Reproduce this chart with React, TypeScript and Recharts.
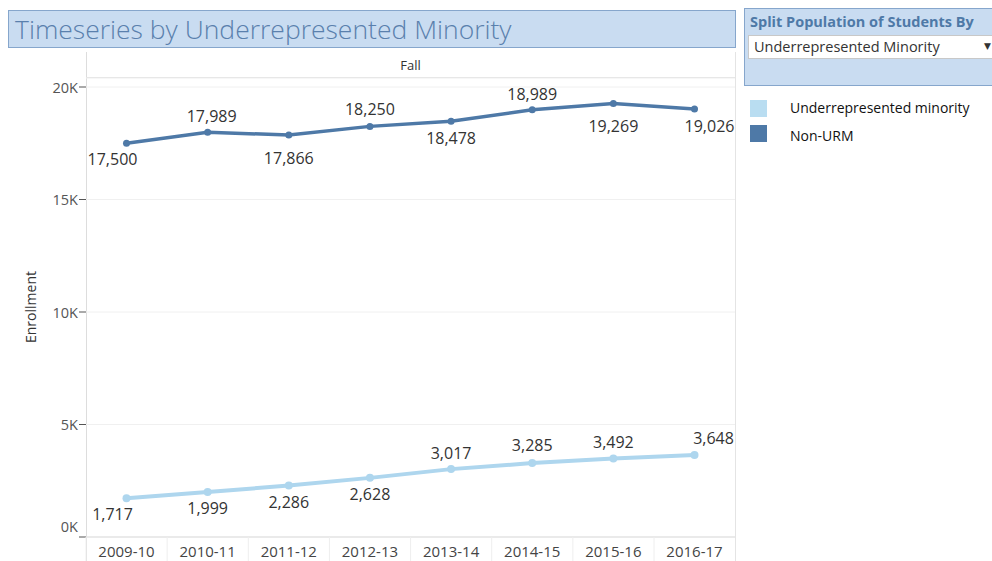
import React from "react";
import {
  LineChart, Line, XAxis, YAxis, CartesianGrid, LabelList,
} from "recharts";

const YEARS = ["2009-10", "2010-11", "2011-12", "2012-13", "2013-14", "2014-15", "2015-16", "2016-17"];
const URM = [1717, 1999, 2286, 2628, 3017, 3285, 3492, 3648];
const NON_URM = [17500, 17989, 17866, 18250, 18478, 18989, 19269, 19026];
const Y_TICKS = [0, 5000, 10000, 15000, 20000];

const URM_COLOR = "#aed6ee";
const NON_URM_COLOR = "#4e79a7";
const FONT = "'Open Sans', 'DejaVu Sans', sans-serif";

// label placement offsets (dx, dy) per point, mimicking Tableau's placement
const NON_URM_OFFSETS: [number, number][] = [
  [-14, 16], [4, -16], [0, 23], [0, -17], [0, 17], [0, -16], [0, 23], [15, 17],
];
const URM_OFFSETS: [number, number][] = [
  [-14, 16], [0, 16], [0, 16], [0, 16], [0, -16], [0, -18], [0, -16], [19, -17],
];

const rows = YEARS.map((y, i) => ({ year: y, urm: URM[i], nonUrm: NON_URM[i] }));

function makeLabel(offsets: [number, number][]) {
  return (props: any) => {
    const { x, y, value, index } = props;
    const [dx, dy] = offsets[index] ?? [0, -16];
    return (
      <text
        x={x + dx}
        y={y + dy}
        textAnchor="middle"
        dominantBaseline="central"
        style={{ fontFamily: FONT, fontSize: 16, fill: "#333" }}
      >
        {Number(value).toLocaleString("en-US")}
      </text>
    );
  };
}

function XTick(props: any) {
  const { x, y, payload } = props;
  return (
    <g>
      <line x1={x - 40.5} x2={x - 40.5} y1={y - 8} y2={y + 24} stroke="#eeeeee" />
      <text
        x={x}
        y={y + 6}
        textAnchor="middle"
        dominantBaseline="central"
        style={{ fontFamily: FONT, fontSize: 15, fill: "#444" }}
      >
        {payload.value}
      </text>
    </g>
  );
}

function YTick(props: any) {
  const { x, y, payload } = props;
  return (
    <text
      x={x}
      y={payload.value === 0 ? y - 11 : y}
      textAnchor="end"
      dominantBaseline="central"
      style={{ fontFamily: FONT, fontSize: 14.5, fill: "#555" }}
    >
      {payload.value / 1000}K
    </text>
  );
}

export default function App() {
  return (
    <div
      style={{
        position: "absolute", left: 0, top: 0, width: 992, height: 561,
        overflow: "hidden", background: "#fff", fontFamily: FONT,
      }}
    >
      {/* title */}
      <div
        style={{
          position: "absolute", left: 8, top: 10, width: 720, height: 36,
          background: "#c9dcf1", border: "1px solid #86a6cc",
          color: "#5a80ad", fontSize: 26.5, fontWeight: 300, lineHeight: "36px", paddingLeft: 6,
          boxSizing: "content-box", whiteSpace: "nowrap",
        }}
      >
        Timeseries by Underrepresented Minority
      </div>

      {/* Fall header */}
      <div
        style={{
          position: "absolute", left: 86, top: 52, width: 649, height: 25,
          borderBottom: "1px solid #dddddd", textAlign: "center",
          fontSize: 13, lineHeight: "27px", color: "#333",
        }}
      >
        Fall
      </div>
      <div style={{ position: "absolute", left: 86, top: 52, width: 1, height: 509, background: "#dddddd" }} />
      <div style={{ position: "absolute", left: 735, top: 52, width: 1, height: 509, background: "#e4e4e4" }} />

      {/* y axis title */}
      <div
        style={{
          position: "absolute", left: 30, top: 307, transform: "translate(-50%, -50%) rotate(-90deg)",
          fontSize: 14, color: "#333", whiteSpace: "nowrap",
        }}
      >
        Enrollment
      </div>

      <div style={{ position: "absolute", left: 0, top: 0 }}>
        <LineChart
          width={740}
          height={561}
          data={rows}
          margin={{ top: 78, right: 5, left: 0, bottom: 0 }}
        >
          <CartesianGrid horizontal vertical={false} stroke="#f0f0f0" />
          <XAxis
            dataKey="year"
            axisLine={{ stroke: "#dddddd" }}
            tickLine={false}
            tick={<XTick />}
            padding={{ left: 40.5, right: 40.5 }}
            height={24}
            interval={0}
          />
          <YAxis
            width={86}
            domain={[0, 20400]}
            ticks={Y_TICKS}
            tick={<YTick />}
            axisLine={false}
            tickLine={{ stroke: "#555" }}
            tickSize={7}
            tickMargin={1}
            allowDataOverflow
          />
          <Line
            dataKey="urm"
            stroke={URM_COLOR}
            strokeWidth={4}
            dot={{ r: 4, fill: URM_COLOR, stroke: "none" }}
            isAnimationActive={false}
          >
            <LabelList dataKey="urm" content={makeLabel(URM_OFFSETS)} />
          </Line>
          <Line
            dataKey="nonUrm"
            stroke={NON_URM_COLOR}
            strokeWidth={3.5}
            dot={{ r: 3.5, fill: NON_URM_COLOR, stroke: "none" }}
            isAnimationActive={false}
          >
            <LabelList dataKey="nonUrm" content={makeLabel(NON_URM_OFFSETS)} />
          </Line>
        </LineChart>
      </div>

      {/* filter box */}
      <div
        style={{
          position: "absolute", left: 744, top: 8, width: 260, height: 76,
          background: "#c9dcf1", border: "1px solid #86a6cc",
        }}
      >
        <div style={{ position: "absolute", left: 5, top: 3, fontSize: 14.5, fontWeight: 700, color: "#4e79a7", whiteSpace: "nowrap" }}>
          Split Population of Students By
        </div>
        <div
          style={{
            position: "absolute", left: 3, top: 26, width: 260, height: 22,
            background: "#fff", border: "1px solid #c8c8c8",
          }}
        >
          <span style={{ position: "absolute", left: 5, top: 1, fontSize: 14.5, color: "#333", whiteSpace: "nowrap" }}>
            Underrepresented Minority
          </span>
          <span style={{ position: "absolute", left: 235, top: 3, fontSize: 9, color: "#333" }}>▼</span>
        </div>
      </div>

      {/* legend */}
      <div style={{ position: "absolute", left: 750, top: 100, width: 17, height: 17, background: "#b9ddf1" }} />
      <div style={{ position: "absolute", left: 790, top: 99, fontSize: 14, color: "#111", lineHeight: "18px", whiteSpace: "nowrap" }}>
        Underrepresented minority
      </div>
      <div style={{ position: "absolute", left: 750, top: 125, width: 17, height: 17, background: NON_URM_COLOR }} />
      <div style={{ position: "absolute", left: 790, top: 127, fontSize: 14, color: "#111", lineHeight: "18px", whiteSpace: "nowrap" }}>
        Non-URM
      </div>
    </div>
  );
}
